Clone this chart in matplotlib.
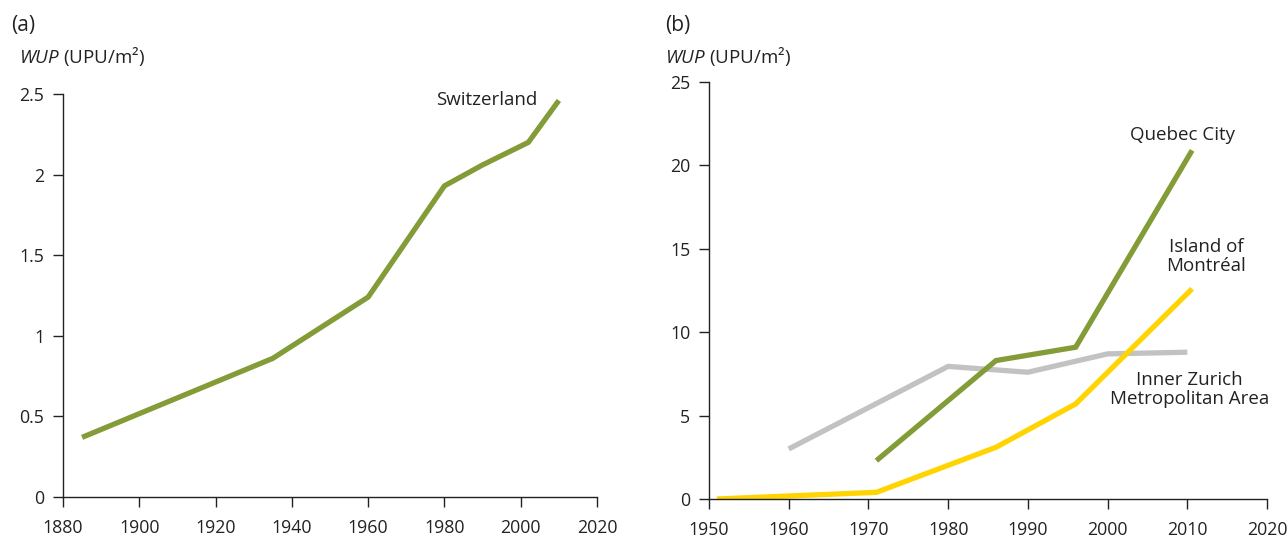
import matplotlib
matplotlib.use("Agg")
import matplotlib.pyplot as plt
from matplotlib.ticker import FuncFormatter

plt.rcParams["font.family"] = ["Open Sans", "DejaVu Sans"]
plt.rcParams["mathtext.fontset"] = "custom"
plt.rcParams["mathtext.rm"] = "Open Sans"
plt.rcParams["mathtext.it"] = "Open Sans:italic"

# Panel (a): Switzerland
swiss_years = [1885, 1935, 1960, 1980, 1990, 2002, 2010]
swiss_wup = [0.37, 0.86, 1.24, 1.93, 2.06, 2.20, 2.46]

# Panel (b): cities
zurich_years = [1960, 1980, 1990, 2000, 2010]
zurich_wup = [3.0, 7.95, 7.6, 8.7, 8.8]

quebec_years = [1971, 1986, 1996, 2010.6]
quebec_wup = [2.3, 8.3, 9.1, 20.9]

montreal_years = [1951, 1971, 1986, 1996, 2010.6]
montreal_wup = [0.0, 0.4, 3.1, 5.7, 12.6]

a_xticks = [1880, 1900, 1920, 1940, 1960, 1980, 2000, 2020]
a_yticks = [0, 0.5, 1, 1.5, 2, 2.5]
b_xticks = [1950, 1960, 1970, 1980, 1990, 2000, 2010, 2020]
b_yticks = [0, 5, 10, 15, 20, 25]

GREEN = "#839c38"
YELLOW = "#ffd400"
GREY = "#c2c2c2"
INK = "#222222"
FS = 13.5
TICK_FS = 12.8
LW = 3.8

fig = plt.figure(figsize=(12.88, 5.36), dpi=100)
ax_a = fig.add_axes([63 / 1288, 39 / 536, 534 / 1288, 403 / 536])
ax_b = fig.add_axes([709 / 1288, 37 / 536, 558 / 1288, 417 / 536])


def style(ax):
    for s in ("top", "right"):
        ax.spines[s].set_visible(False)
    for s in ("left", "bottom"):
        ax.spines[s].set_linewidth(1.0)
        ax.spines[s].set_color(INK)
    ax.tick_params(direction="out", length=7.5, width=1.0, color=INK,
                   labelsize=TICK_FS, labelcolor=INK)
    ax.tick_params(axis="x", pad=8)
    ax.tick_params(axis="y", pad=6)
    ax.yaxis.set_major_formatter(FuncFormatter(lambda v, p: f"{v:g}"))


ax_a.plot(swiss_years, swiss_wup, color=GREEN, lw=LW, solid_capstyle="butt",
          solid_joinstyle="miter")
ax_a.set_xlim(1880, 2020)
ax_a.set_ylim(0, 2.5)
ax_a.set_xticks(a_xticks)
ax_a.set_yticks(a_yticks)
style(ax_a)
ax_a.text(2004.3, 2.43, "Switzerland", fontsize=FS, ha="right",
          va="baseline", color=INK)

ax_b.plot(zurich_years, zurich_wup, color=GREY, lw=LW, solid_capstyle="butt",
          solid_joinstyle="miter")
ax_b.plot(montreal_years, montreal_wup, color=YELLOW, lw=LW,
          solid_capstyle="butt", solid_joinstyle="miter")
ax_b.plot(quebec_years, quebec_wup, color=GREEN, lw=LW, solid_capstyle="butt",
          solid_joinstyle="miter")
ax_b.set_xlim(1950, 2020)
ax_b.set_ylim(0, 25)
ax_b.set_xticks(b_xticks)
ax_b.set_yticks(b_yticks)
style(ax_b)
ax_b.text(2009.4, 21.5, "Quebec City", fontsize=FS, ha="center",
          va="baseline", color=INK)
ax_b.text(2012.4, 14.55, "Island of\nMontréal", fontsize=FS, ha="center",
          va="center", color=INK, linespacing=1.05)
ax_b.text(2010.25, 6.55, "Inner Zurich\nMetropolitan Area", fontsize=FS,
          ha="center", va="center", color=INK, linespacing=1.05)

ylab = r"$\mathit{WUP}$ (UPU/m²)"
fig.text(11 / 1288, 1 - 25 / 536, "(a)", fontsize=FS + 1.5, va="center",
         color=INK)
fig.text(19 / 1288, 1 - 57 / 536, ylab, fontsize=FS, va="center",
         color=INK)
fig.text(665 / 1288, 1 - 25 / 536, "(b)", fontsize=FS + 1.5, va="center",
         color=INK)
fig.text(665 / 1288, 1 - 57 / 536, ylab, fontsize=FS, va="center",
         color=INK)

fig.savefig("out.png", dpi=100, facecolor="white")
